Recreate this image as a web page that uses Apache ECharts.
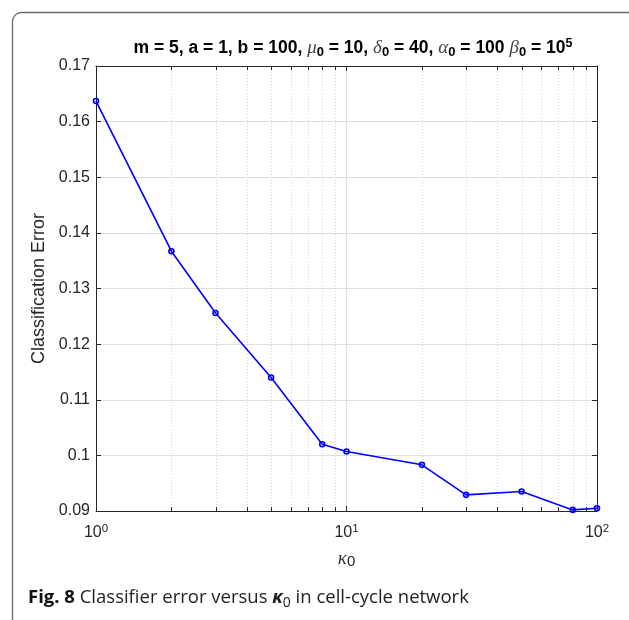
<!DOCTYPE html>
<html>
<head>
<meta charset="utf-8">
<title>Classifier error versus kappa0</title>
<script src="https://cdn.jsdelivr.net/npm/echarts@6/dist/echarts.min.js"></script>
<style>
  html, body { margin: 0; padding: 0; background: #fff; }
  #chart { width: 629px; height: 620px; }
</style>
</head>
<body>
<div id="chart"></div>
<script>
// kappa_0 values (log-scaled x) and the measured classification error
const kappa0 = [1, 2, 3, 5, 8, 10, 20, 30, 50, 80, 100];
const classError = [0.1637, 0.1367, 0.1256, 0.1140, 0.1020, 0.1007, 0.0983, 0.0929, 0.0935, 0.0902, 0.0905];

// axis ticks
const xMajorTicks = [1, 10, 100];
const xMinorTicks = [2, 3, 4, 5, 6, 7, 8, 9, 20, 30, 40, 50, 60, 70, 80, 90];
const yMin = 0.09, yMax = 0.17, yStep = 0.01;

const AX = '#262626';
const GRID = '#dedede';
const SANS = '"Liberation Sans", Arial, Helvetica, sans-serif';
const SERIF = '"Liberation Serif", "DejaVu Serif", serif';
const CAP = '"Open Sans", "Noto Sans", sans-serif';

const chart = echarts.init(document.getElementById('chart'), null, { renderer: 'canvas' });

const titleText =
  '{b|m = 5, a = 1, b = 100, }{g|μ}{s|0}{b| = 10, }{g|δ}{s|0}{b| = 40, }' +
  '{g|α}{s|0}{b| = 100 }{g|β}{s|0}{b| = 10}{p|5}';

chart.setOption({
  animation: false,
  backgroundColor: '#fff',
  title: {
    text: titleText,
    left: 348,
    textAlign: 'center',
    top: 32,
    textStyle: {
      rich: {
        b: { fontFamily: SANS, fontWeight: 'bold', fontSize: 17.5, color: '#000', lineHeight: 22 },
        g: { fontFamily: SERIF, fontStyle: 'italic', fontWeight: 'normal', fontSize: 19, color: '#444', lineHeight: 22 },
        s: { fontFamily: SANS, fontWeight: 'bold', fontSize: 13, color: '#000', lineHeight: 13, verticalAlign: 'bottom' },
        p: { fontFamily: SANS, fontWeight: 'bold', fontSize: 12.5, color: '#000', lineHeight: 12, verticalAlign: 'top' }
      }
    }
  },
  grid: { left: 96, right: 32, top: 66, bottom: 109, containLabel: false },
  xAxis: [
    {
      type: 'log', logBase: 10, min: 1, max: 100, position: 'bottom',
      axisLine: { show: true, lineStyle: { color: AX, width: 1 } },
      axisTick: { show: true, inside: true, length: 5, lineStyle: { color: AX } },
      splitLine: { show: true, lineStyle: { color: GRID, width: 1 } },
      axisLabel: {
        margin: 12,
        formatter: v => {
          const e = xMajorTicks.indexOf(Math.round(v));
          return e < 0 ? '' : '{m|10}{e|' + e + '}';
        },
        rich: {
          m: { fontFamily: SANS, fontSize: 16, color: AX, lineHeight: 20 },
          e: { fontFamily: SANS, fontSize: 11.5, color: AX, lineHeight: 11, verticalAlign: 'top' }
        }
      },
      name: '{k|κ}{s|0}',
      nameLocation: 'middle',
      nameGap: 38,
      nameTextStyle: {
        rich: {
          k: { fontFamily: SERIF, fontStyle: 'italic', fontSize: 19, color: '#333', lineHeight: 20 },
          s: { fontFamily: SANS, fontSize: 15, color: AX, lineHeight: 14, verticalAlign: 'bottom' }
        }
      }
    },
    {
      type: 'log', logBase: 10, min: 1, max: 100, position: 'top',
      axisLine: { show: true, lineStyle: { color: AX, width: 1 } },
      axisTick: { show: true, inside: true, length: 5, lineStyle: { color: AX } },
      axisLabel: { show: false },
      splitLine: { show: false }
    }
  ],
  yAxis: [
    {
      type: 'value', min: yMin, max: yMax, interval: yStep, position: 'left',
      axisLine: { show: true, lineStyle: { color: AX, width: 1 } },
      axisTick: { show: true, inside: true, length: 5, lineStyle: { color: AX } },
      splitLine: { show: true, lineStyle: { color: GRID, width: 1 } },
      axisLabel: {
        margin: 6,
        fontFamily: SANS, fontSize: 16, color: AX,
        formatter: v => String(+v.toFixed(2))
      },
      name: 'Classification Error',
      nameLocation: 'middle',
      nameGap: 36,
      nameTextStyle: { fontFamily: SANS, fontSize: 18, color: AX }
    },
    {
      type: 'value', min: yMin, max: yMax, interval: yStep, position: 'right',
      axisLine: { show: true, lineStyle: { color: AX, width: 1 } },
      axisTick: { show: true, inside: true, length: 5, lineStyle: { color: AX } },
      axisLabel: { show: false },
      splitLine: { show: false }
    }
  ],
  series: [
    {
      // dotted minor grid plus minor ticks on the bottom and top edges
      type: 'custom',
      xAxisIndex: 0, yAxisIndex: 0,
      silent: true,
      z: 1,
      data: xMinorTicks.map(v => [v, yMin]),
      renderItem: (params, api) => {
        const x = Math.round(api.coord([api.value(0), yMin])[0]) + 0.5;
        const cs = params.coordSys;
        const top = cs.y, bottom = cs.y + cs.height;
        return {
          type: 'group',
          children: [
            { type: 'line', shape: { x1: x, y1: top, x2: x, y2: bottom },
              style: { stroke: '#d4d4d4', lineWidth: 1, lineDash: [1, 2] } },
            { type: 'line', shape: { x1: x, y1: bottom, x2: x, y2: bottom - 4 },
              style: { stroke: AX, lineWidth: 1 } },
            { type: 'line', shape: { x1: x, y1: top, x2: x, y2: top + 4 },
              style: { stroke: AX, lineWidth: 1 } }
          ]
        };
      }
    },
    {
      type: 'line',
      xAxisIndex: 0, yAxisIndex: 0,
      data: kappa0.map((k, i) => [k, classError[i]]),
      z: 5,
      symbol: 'circle',
      symbolSize: 5,
      showAllSymbol: true,
      lineStyle: { color: '#0000ff', width: 1.6 },
      itemStyle: { color: 'rgba(0,0,0,0)', borderColor: '#0000ff', borderWidth: 1.6 }
    }
  ],
  graphic: [
    {
      // figure frame: only the top and left edges fall inside the page
      type: 'rect',
      shape: { x: 12.5, y: 12.5, width: 900, height: 900, r: 9 },
      style: { fill: 'none', stroke: '#6a6a6a', lineWidth: 1.3 },
      silent: true
    },
    {
      type: 'text',
      left: 28,
      top: 588,
      style: {
        text: '{f|Fig. 8}{n| Classifier error versus }{k|κ}{s|0}{n| in cell-cycle network}',
        rich: {
          f: { fontFamily: CAP, fontWeight: 'bold', fontSize: 18.5, fill: '#111', lineHeight: 26 },
          n: { fontFamily: CAP, fontSize: 18.5, fill: '#222', lineHeight: 26 },
          k: { fontFamily: CAP, fontWeight: 'bold', fontStyle: 'italic', fontSize: 18.5, fill: '#222', lineHeight: 26 },
          s: { fontFamily: CAP, fontSize: 14, fill: '#222', lineHeight: 16, verticalAlign: 'bottom' }
        }
      }
    }
  ]
});
</script>
</body>
</html>
